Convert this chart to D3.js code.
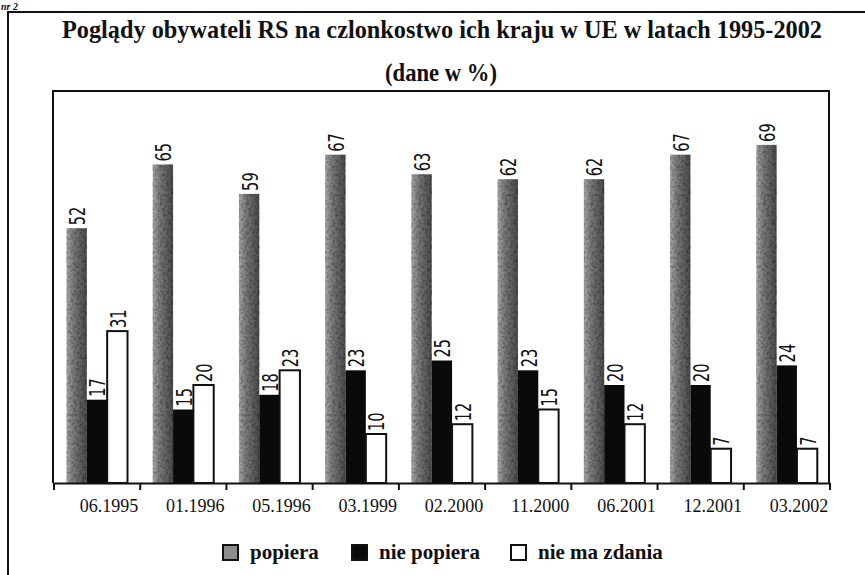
<!DOCTYPE html>
<html><head><meta charset="utf-8">
<script src="https://cdn.jsdelivr.net/npm/d3@7"></script>
<style>html,body{margin:0;padding:0;background:#fff;}svg{display:block;}</style>
</head><body>
<svg id="c" width="865" height="575"></svg>
<script>
const categories = ["06.1995","01.1996","05.1996","03.1999","02.2000","11.2000","06.2001","12.2001","03.2002"];
const popiera     = [52,65,59,67,63,62,62,67,69];
const niePopiera  = [17,15,18,23,25,23,20,20,24];
const nieMaZdania = [31,20,23,10,12,15,12,7,7];
const seriesNames = ["popiera","nie popiera","nie ma zdania"];
const titleText = "Poglądy obywateli RS na czlonkostwo ich kraju w UE w latach 1995-2002";
const subtitleText = "(dane w %)";
const captionText = "nr 2";

const series = [popiera, niePopiera, nieMaZdania];
const rows = categories.map((c,i)=>({cat:c, values: series.map((s,k)=>({key:seriesNames[k], v:s[i]}))}));

const svg = d3.select("#c");
const defs = svg.append("defs");
const g1 = defs.append("linearGradient").attr("id","grayGrad").attr("x1","0").attr("x2","1").attr("y1","0").attr("y2","0");
g1.append("stop").attr("offset","0").attr("stop-color","#a8a8a8");
g1.append("stop").attr("offset","0.35").attr("stop-color","#7a7a7a");
g1.append("stop").attr("offset","1").attr("stop-color","#4a4a4a");
const flt = defs.append("filter").attr("id","grain").attr("x","0").attr("y","0").attr("width","1").attr("height","1");
flt.append("feTurbulence").attr("type","fractalNoise").attr("baseFrequency","0.35").attr("numOctaves","2").attr("seed","3").attr("result","n");
flt.append("feColorMatrix").attr("in","n").attr("type","matrix")
  .attr("values","0 0 0 0 0  0 0 0 0 0  0 0 0 0 0  0 0 0 -1.2 0.75").attr("result","m");
flt.append("feComposite").attr("in","m").attr("in2","SourceGraphic").attr("operator","in").attr("result","mm");
flt.append("feMerge").call(s=>{s.append("feMergeNode").attr("in","SourceGraphic");s.append("feMergeNode").attr("in","mm");});

const fills = {"popiera":"url(#grayGrad)","nie popiera":"#0a0a0a","nie ma zdania":"#ffffff"};

// outer frame (partial, cut by page)
svg.append("path").attr("d","M8,575 L8,12 L865,12").attr("fill","none").attr("stroke","#111").attr("stroke-width",2);
// caption at top-left
svg.append("text").attr("x",1).attr("y",9.5)
  .attr("font-family","Liberation Serif").attr("font-weight","bold").attr("font-style","italic")
  .attr("font-size",10).attr("fill","#111").text(captionText);

svg.append("text").attr("x",442).attr("y",38).attr("text-anchor","middle")
  .attr("font-family","Liberation Serif").attr("font-weight","bold").attr("font-size",25)
  .attr("textLength",760).attr("lengthAdjust","spacingAndGlyphs").attr("fill","#111").text(titleText);
svg.append("text").attr("x",441).attr("y",81).attr("text-anchor","middle")
  .attr("font-family","Liberation Serif").attr("font-weight","bold").attr("font-size",25)
  .attr("textLength",112).attr("lengthAdjust","spacingAndGlyphs").attr("fill","#111").text(subtitleText);

const x = d3.scaleBand().domain(categories).range([54,830]);
const x1 = d3.scaleBand().domain(seriesNames).range([12.5,73.5]);
const y = d3.scaleLinear().domain([0,80]).range([483,91]);

// inner frame
svg.append("path").attr("d",`M${x.range()[0]-1},${y(0)} L${x.range()[0]-1},${y(80)} L${x.range()[1]-1},${y(80)} L${x.range()[1]-1},${y(0)}`)
  .attr("fill","none").attr("stroke","#111").attr("stroke-width",2);

const groups = svg.append("g").selectAll("g").data(rows).join("g")
  .attr("transform",d=>`translate(${x(d.cat)},0)`);
groups.selectAll("rect").data(d=>d.values).join("rect")
  .attr("x",d=>x1(d.key)).attr("width",x1.bandwidth())
  .attr("y",d=>y(d.v)).attr("height",d=>y(0)-y(d.v))
  .attr("fill",d=>fills[d.key])
  .attr("filter",d=>d.key==="popiera"?"url(#grain)":null)
  .attr("stroke",d=>d.key==="nie ma zdania"?"#111":"none").attr("stroke-width",2);
groups.selectAll("text").data(d=>d.values).join("text")
  .attr("transform",d=>`translate(${x1(d.key)+x1.bandwidth()/2+1},${y(d.v)-3}) rotate(-90) scale(0.74,1)`)
  .attr("dominant-baseline","central")
  .attr("font-family","'DejaVu Sans Condensed','DejaVu Sans',sans-serif")
  .attr("font-size",22).attr("fill","#111").text(d=>d.v);

// x axis
const axis = svg.append("g").attr("transform",`translate(0,${y(0)})`)
  .call(d3.axisBottom(x).tickSize(0).tickPadding(16));
axis.select(".domain").attr("stroke","#111").attr("stroke-width",2);
axis.selectAll(".tick text").attr("dx",12).attr("font-family","Liberation Serif").attr("font-size",18).attr("fill","#111");
const bounds = categories.map(c=>x(c)).concat([x.range()[1]]);
axis.selectAll(".bt").data(bounds).join("line").attr("class","bt")
  .attr("x1",d=>d).attr("x2",d=>d).attr("y1",0).attr("y2",7).attr("stroke","#111").attr("stroke-width",2);

// legend
const legX = [223,352,511];
const leg = svg.append("g").selectAll("g").data(seriesNames).join("g")
  .attr("transform",(d,i)=>`translate(${legX[i]},545)`);
leg.append("rect").attr("width",15).attr("height",15)
  .attr("fill",d=>d==="popiera"?"#8c8c8c":fills[d]).attr("stroke","#111").attr("stroke-width",2);
leg.append("text").attr("x",27).attr("y",14)
  .attr("font-family","Liberation Serif").attr("font-weight","bold").attr("font-size",21).attr("fill","#111").text(d=>d);
</script>
</body></html>
